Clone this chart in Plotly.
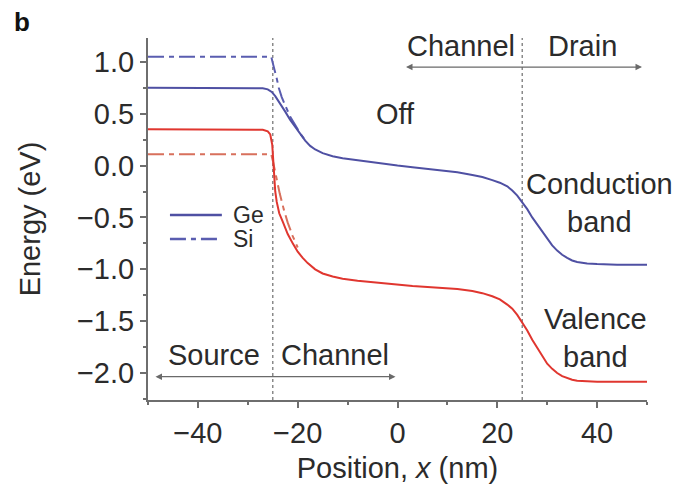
import plotly.graph_objects as go

# ---------------- data ----------------
ge_cb_x = [-50, -30, -27, -26, -25.2, -24.5, -23.5, -22.5, -21.5, -20.5, -19.5, -18.5, -17.5, -16.5,
           -15, -13, -11, -8, -5, -2, 0, 3, 6, 9, 12, 15, 17, 19, 20.5, 22, 23, 24, 25, 26, 27, 28,
           29, 30, 31, 32, 33, 34, 35, 36, 38, 40, 44, 50]
ge_cb_e = [0.75, 0.75, 0.745, 0.735, 0.71, 0.67, 0.6, 0.52, 0.44, 0.37, 0.3, 0.24, 0.19, 0.155,
           0.12, 0.09, 0.07, 0.05, 0.03, 0.01, 0.0, -0.015, -0.03, -0.045, -0.065, -0.09, -0.11, -0.14,
           -0.165, -0.2, -0.24, -0.29, -0.35, -0.42, -0.5, -0.57, -0.64, -0.71, -0.77, -0.82, -0.86,
           -0.89, -0.915, -0.93, -0.945, -0.95, -0.955, -0.955]

ge_vb_x = [-50, -30, -27, -26, -25.5, -25.1, -24.9, -24.7, -24.5, -24.2, -23.7, -23, -22, -21, -20,
           -19, -18, -16.5, -15, -13, -11, -8, -5, -2, 0, 3, 6, 9, 12, 15, 17, 19, 20.5, 22, 23, 24,
           25, 26, 27, 28, 29, 30, 31, 32, 33, 34, 35, 36, 38, 40, 44, 50]
ge_vb_e = [0.35, 0.35, 0.345, 0.33, 0.3, 0.2, 0.0, -0.15, -0.25, -0.35, -0.46, -0.54, -0.66, -0.75,
           -0.83, -0.89, -0.94, -1.0, -1.04, -1.07, -1.09, -1.11, -1.125, -1.14, -1.15, -1.16, -1.17,
           -1.18, -1.19, -1.21, -1.23, -1.26, -1.29, -1.34, -1.38, -1.44, -1.51, -1.59, -1.68, -1.76,
           -1.84, -1.91, -1.96, -2.0, -2.03, -2.05, -2.065, -2.075, -2.08, -2.085, -2.085, -2.085]

si_cb_x = [-50, -25.3, -25, -24.6, -24.2, -23.8, -23.2, -22.5, -21.5, -20.5, -19.5, -18.5]
si_cb_e = [1.05, 1.05, 0.99, 0.92, 0.84, 0.75, 0.66, 0.58, 0.47, 0.39, 0.31, 0.245]

si_vb_x = [-50, -25.3, -25, -24.6, -24.2, -23.6, -22.8, -22, -21, -20]
si_vb_e = [0.11, 0.11, 0.05, -0.05, -0.15, -0.27, -0.42, -0.55, -0.68, -0.79]

boundaries = [-25, 25]
x_ticks = [-40, -20, 0, 20, 40]
y_ticks = [-2.0, -1.5, -1.0, -0.5, 0.0, 0.5, 1.0]

# region labels: (text, x, y)
region_labels = [("Channel", 12.8, 1.15), ("Drain", 37.1, 1.15),
                 ("Source", -36.7, -1.83), ("Channel", -12.6, -1.83),
                 ("Off", -0.5, 0.5),
                 ("Conduction<br>band", 40.5, -0.36),
                 ("Valence<br>band", 39.7, -1.66)]
# arrows: (x_start, x_end, y)
arrows = [(1.4, 49.0, 0.95), (-48.8, -0.4, -2.035)]
# legend key: (name, colour, dash)
legend_items = [("Ge", "#4f50a3", "solid"), ("Si", "#5a5db0", "16px,5px,5px,5px")]

BLUE = "#4f50a3"
RED = "#e0362f"
BLUE_SI = "#5a5db0"
RED_SI = "#d8705c"
GREY = "#6e6e6e"
TXT = "#2b2b2b"
FONT = "Liberation Sans, Arial, sans-serif"
FS = 29

fig = go.Figure()
fig.add_trace(go.Scatter(x=si_cb_x, y=si_cb_e, mode="lines", name="Si",
                         line=dict(color=BLUE_SI, width=2, dash="16px,5px,5px,5px")))
fig.add_trace(go.Scatter(x=si_vb_x, y=si_vb_e, mode="lines", name="Si",
                         line=dict(color=RED_SI, width=2, dash="16px,5px,5px,5px")))
fig.add_trace(go.Scatter(x=ge_cb_x, y=ge_cb_e, mode="lines", name="Ge",
                         line=dict(color=BLUE, width=2)))
fig.add_trace(go.Scatter(x=ge_vb_x, y=ge_vb_e, mode="lines", name="Ge",
                         line=dict(color=RED, width=2)))

for b in boundaries:
    fig.add_shape(type="line", x0=b, x1=b, xref="x", yref="paper", y0=0, y1=1,
                  line=dict(color="#8a8a8a", width=1.5, dash="dot"), layer="below")

for text, x, y in region_labels:
    fig.add_annotation(x=x, y=y, text=text, showarrow=False,
                       font=dict(family=FONT, size=FS, color=TXT))

for x0, x1, y in arrows:
    fig.add_annotation(x=x1, y=y, ax=x0, ay=y, axref="x", ayref="y", xref="x", yref="y",
                       text="", showarrow=True, arrowhead=2, arrowside="end+start",
                       arrowsize=1, arrowwidth=1.3, arrowcolor="#6a6a6a")

# legend key (drawn in paper coordinates)
for i, (name, col, dash) in enumerate(legend_items):
    yk = 0.511 - i * 0.066
    fig.add_shape(type="line", xref="paper", yref="paper", x0=0.044, x1=0.148, y0=yk, y1=yk,
                  line=dict(color=col, width=2.5, dash=dash))
    fig.add_annotation(xref="paper", yref="paper", x=0.166, y=yk, text=name, showarrow=False,
                       xanchor="left", yanchor="middle",
                       font=dict(family=FONT, size=23, color=TXT))

fig.add_annotation(xref="paper", yref="paper", x=-0.252, y=1.045, text="<b>b</b>",
                   xanchor="center", yanchor="middle",
                   showarrow=False, font=dict(family=FONT, size=26, color="#111"))

fig.update_layout(
    width=679, height=490,
    margin=dict(l=148, r=32, t=38, b=90),
    paper_bgcolor="white", plot_bgcolor="white",
    font=dict(family=FONT, size=FS, color=TXT),
    showlegend=False,
)
fig.update_xaxes(range=[-50, 50], tickvals=x_ticks, ticks="outside", ticklen=6, tickwidth=1.5,
                 tickcolor=GREY, showline=True, linecolor=GREY, linewidth=2, showgrid=False,
                 zeroline=False, automargin=False, tickfont=dict(family=FONT, size=FS, color=TXT),
                 minor=dict(dtick=10, tick0=0, ticks="outside", ticklen=3, tickcolor=GREY),
                 title=dict(text="Position, <i>x</i> (nm)", standoff=10,
                            font=dict(family=FONT, size=FS, color=TXT)))
fig.update_yaxes(range=[-2.26, 1.23], tickvals=y_ticks, tickformat=".1f", ticks="outside",
                 ticklen=6, tickwidth=1.5, tickcolor=GREY, showline=True, linecolor=GREY,
                 linewidth=2, showgrid=False, zeroline=False, automargin=False,
                 tickfont=dict(family=FONT, size=FS, color=TXT),
                 minor=dict(dtick=0.25, tick0=0, ticks="outside", ticklen=3, tickcolor=GREY),
                 title=dict(text="Energy (eV)", standoff=28,
                            font=dict(family=FONT, size=FS, color=TXT)))

fig.write_html("out.html")
